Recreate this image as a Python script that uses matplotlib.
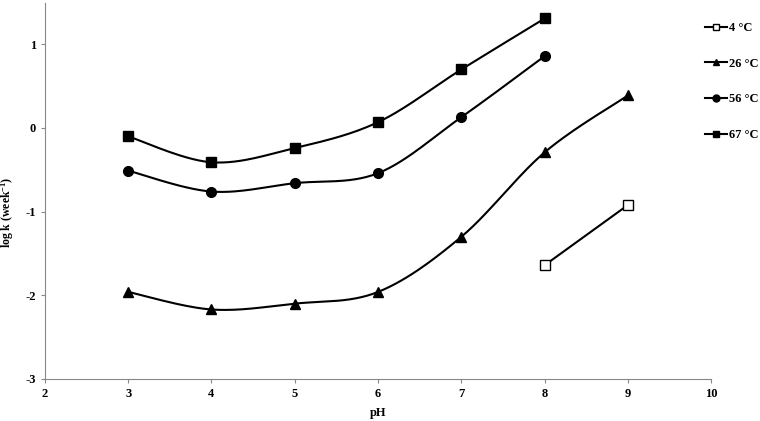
import matplotlib.pyplot as plt
import numpy as np
from matplotlib.lines import Line2D

plt.rcParams['font.family'] = ['Liberation Serif', 'DejaVu Serif']
plt.rcParams['font.weight'] = 'bold'
plt.rcParams['axes.unicode_minus'] = False
plt.rcParams['mathtext.fontset'] = 'custom'
plt.rcParams['mathtext.rm'] = 'Liberation Serif:bold'
plt.rcParams['mathtext.default'] = 'rm'

# Data
ph_4 = [8, 9]
logk_4 = [-1.64, -0.92]
ph_26 = [3, 4, 5, 6, 7, 8, 9]
logk_26 = [-1.96, -2.17, -2.10, -1.96, -1.30, -0.29, 0.39]
ph_56 = [3, 4, 5, 6, 7, 8]
logk_56 = [-0.51, -0.76, -0.66, -0.54, 0.13, 0.86]
ph_67 = [3, 4, 5, 6, 7, 8]
logk_67 = [-0.10, -0.41, -0.24, 0.07, 0.70, 1.31]


def smooth(x, y, n=30):
    # Excel-style smoothed line (Catmull-Rom bezier through the points)
    x = np.asarray(x, float)
    y = np.asarray(y, float)
    if len(x) < 3:
        return x, y
    px = np.concatenate([[x[0]], x, [x[-1]]])
    py = np.concatenate([[y[0]], y, [y[-1]]])
    xs, ys = [], []
    t = np.linspace(0, 1, n)
    for i in range(1, len(px) - 2):
        p0 = np.array([px[i], py[i]])
        p3 = np.array([px[i + 1], py[i + 1]])
        p1 = p0 + (np.array([px[i + 1], py[i + 1]]) - np.array([px[i - 1], py[i - 1]])) / 6
        p2 = p3 - (np.array([px[i + 2], py[i + 2]]) - np.array([px[i], py[i]])) / 6
        b = ((1 - t) ** 3)[:, None] * p0 + (3 * (1 - t) ** 2 * t)[:, None] * p1 \
            + (3 * (1 - t) * t ** 2)[:, None] * p2 + (t ** 3)[:, None] * p3
        xs.extend(b[:, 0])
        ys.extend(b[:, 1])
    return np.array(xs), np.array(ys)


fig = plt.figure(figsize=(7.6, 4.21), dpi=100)
ax = fig.add_axes([0.059, 0.1, 0.877, 0.894])

series = [
    (ph_4, logk_4, 's', 'white', '4 °C'),
    (ph_26, logk_26, '^', 'black', '26 °C'),
    (ph_56, logk_56, 'o', 'black', '56 °C'),
    (ph_67, logk_67, 's', 'black', '67 °C'),
]
handles = []
for x, y, m, fc, lab in series:
    sx, sy = smooth(x, y)
    ax.plot(sx, sy, color='black', lw=1.5, zorder=2)
    ax.plot(x, y, linestyle='none', marker=m, markersize=7, markerfacecolor=fc,
            markeredgecolor='black', markeredgewidth=1, zorder=3)
    handles.append(Line2D([], [], color='black', lw=1.5, marker=m, markersize=5,
                          markerfacecolor=fc, markeredgecolor='black', label=lab))

ax.set_xlim(2, 10)
ax.set_ylim(-3, 1.5)
ax.set_xticks(range(2, 11))
ax.set_yticks([-3, -2, -1, 0, 1])
for s in ['top', 'right']:
    ax.spines[s].set_visible(False)
for s in ['left', 'bottom']:
    ax.spines[s].set_color('#888888')
ax.tick_params(colors='#888888', labelcolor='black', labelsize=9, length=3)
ax.set_xlabel('pH', fontsize=9, fontweight='bold')
ax.set_ylabel('log k (week$^{-1}$)', fontsize=8.5, fontweight='bold')
ax.xaxis.set_label_coords(0.5, -0.075)
ax.yaxis.set_label_coords(-0.043, 0.444)

fig.legend(handles=handles, loc='upper left', bbox_to_anchor=(0.928, 0.948),
           frameon=False, fontsize=9, labelspacing=1.9, handlelength=1.7,
           handletextpad=0.2, borderaxespad=0, borderpad=0)

fig.savefig('out.png', dpi=100)
